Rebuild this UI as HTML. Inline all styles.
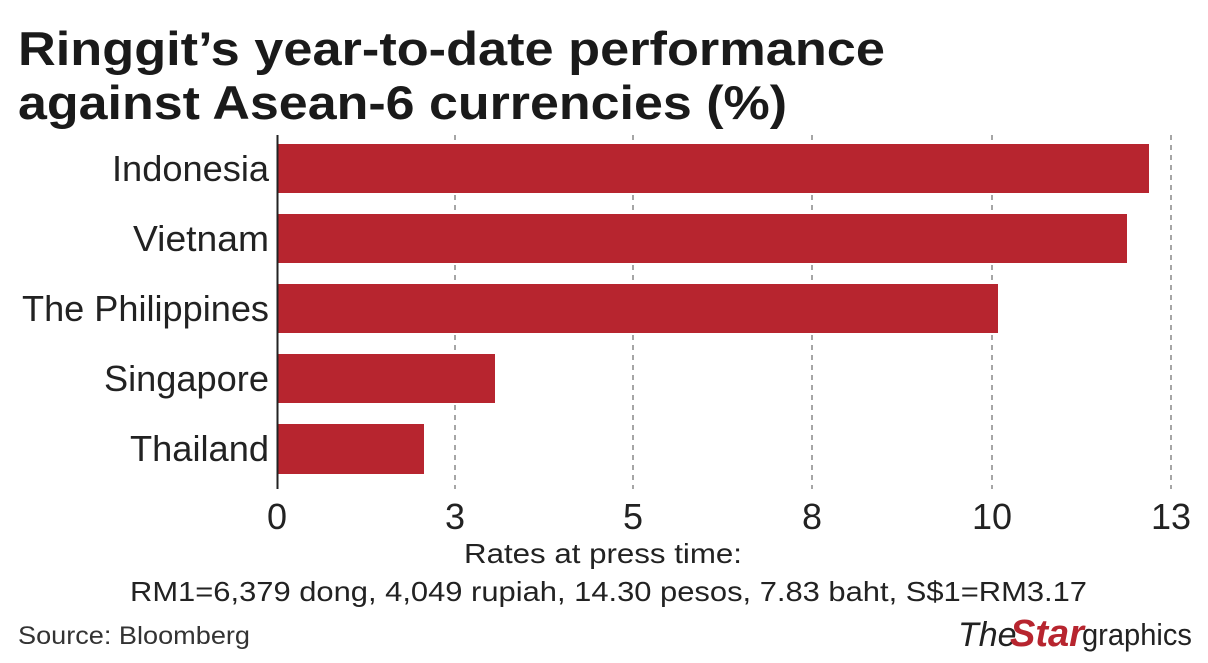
<!DOCTYPE html>
<html><head><meta charset="utf-8"><style>
html,body{margin:0;padding:0;background:#fff}
svg{display:block}
text{font-family:"Liberation Sans",sans-serif}
</style></head><body>
<svg width="1208" height="663" viewBox="0 0 1208 663" xmlns="http://www.w3.org/2000/svg">
<text x="18" y="65" font-size="47" font-weight="bold" fill="#1a1a1a" textLength="867" lengthAdjust="spacingAndGlyphs">Ringgit’s year-to-date performance</text>
<text x="18" y="119" font-size="47" font-weight="bold" fill="#1a1a1a" textLength="769" lengthAdjust="spacingAndGlyphs">against Asean-6 currencies (%)</text>
<g stroke="#888" stroke-width="1.5" stroke-dasharray="5,5">
<line x1="455" y1="135" x2="455" y2="489"/>
<line x1="633" y1="135" x2="633" y2="489"/>
<line x1="812" y1="135" x2="812" y2="489"/>
<line x1="992" y1="135" x2="992" y2="489"/>
<line x1="1171" y1="135" x2="1171" y2="489"/>
</g>
<g fill="#b7252f">
<rect x="277" y="144" width="872" height="49"/>
<rect x="277" y="214" width="850" height="49"/>
<rect x="277" y="284" width="721" height="49"/>
<rect x="277" y="354" width="218" height="49"/>
<rect x="277" y="424" width="147" height="50"/>
</g>
<line x1="277.5" y1="135" x2="277.5" y2="489" stroke="#222" stroke-width="2"/>
<g font-size="36" fill="#222" lengthAdjust="spacingAndGlyphs">
<text x="112" y="181" textLength="157" lengthAdjust="spacingAndGlyphs">Indonesia</text>
<text x="133" y="251" textLength="136" lengthAdjust="spacingAndGlyphs">Vietnam</text>
<text x="22" y="321" textLength="247" lengthAdjust="spacingAndGlyphs">The Philippines</text>
<text x="104" y="391" textLength="165" lengthAdjust="spacingAndGlyphs">Singapore</text>
<text x="130" y="461" textLength="139" lengthAdjust="spacingAndGlyphs">Thailand</text>
</g>
<g font-size="36" fill="#222" text-anchor="middle">
<text x="277" y="529">0</text>
<text x="455" y="529">3</text>
<text x="633" y="529">5</text>
<text x="812" y="529">8</text>
<text x="992" y="529">10</text>
<text x="1171" y="529">13</text>
</g>
<text x="464" y="563" font-size="28" fill="#222" textLength="278" lengthAdjust="spacingAndGlyphs">Rates at press time:</text>
<text x="130" y="601" font-size="28" fill="#222" textLength="957" lengthAdjust="spacingAndGlyphs">RM1=6,379 dong, 4,049 rupiah, 14.30 pesos, 7.83 baht, S$1=RM3.17</text>
<text x="18" y="644" font-size="25" fill="#333" textLength="232" lengthAdjust="spacingAndGlyphs">Source: Bloomberg</text>
<text x="958" y="646" font-size="34" font-style="italic" font-family="Liberation Serif" fill="#222">The</text>
<text x="1010" y="646" font-size="38" font-style="italic" font-weight="bold" fill="#b7252f">Star</text>
<text x="1082" y="645" font-size="31" fill="#222" textLength="110" lengthAdjust="spacingAndGlyphs">graphics</text>
</svg>
</body></html>
